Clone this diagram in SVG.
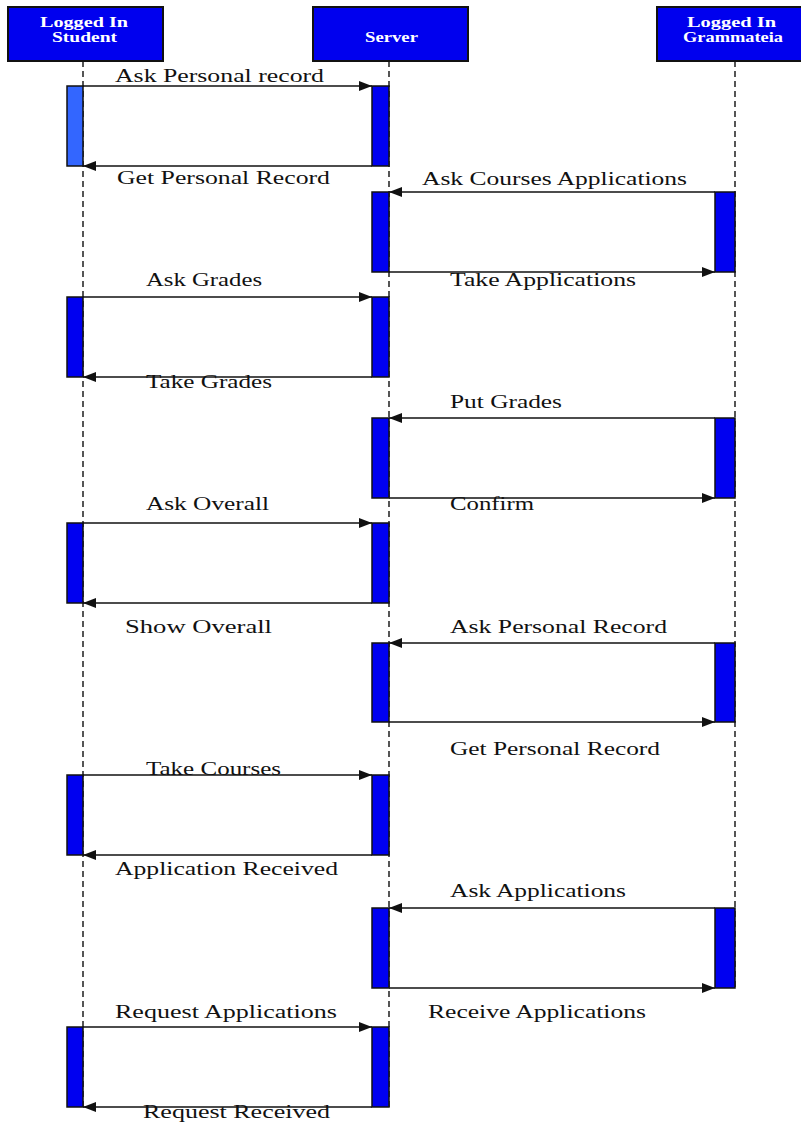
<svg xmlns="http://www.w3.org/2000/svg" width="801" height="1125" viewBox="0 0 801 1125">
<defs>
<marker id="ah" markerUnits="userSpaceOnUse" markerWidth="14" markerHeight="10" refX="13" refY="5" orient="auto">
<path d="M0,0 L13,5 L0,10 z" fill="#111"/>
</marker>
<style>
.hdr{fill:#0000ee;stroke:#111;stroke-width:2}
.ht{font-family:"Liberation Serif","Times New Roman",serif;font-weight:bold;font-size:14px;fill:#fff;text-anchor:start}
.life{stroke:#444;stroke-width:1.8;stroke-dasharray:6 4;fill:none}
.bar{fill:#0000f0;stroke:#111;stroke-width:1.5}
.bar1{fill:#3366ff;stroke:#111;stroke-width:1.5}
.msg{stroke:#111;stroke-width:1.6;fill:none;marker-end:url(#ah)}
.lbl{font-family:"Liberation Serif","Times New Roman",serif;font-size:18px;fill:#111}
</style>
</defs>
<rect width="801" height="1125" fill="#fff"/>
<g id="lifelines">
<line class="life" x1="83" y1="61" x2="83" y2="1107"/>
<line class="life" x1="389" y1="61" x2="389" y2="1107"/>
<line class="life" x1="735" y1="61" x2="735" y2="988"/>
</g>
<g id="student">
<rect class="hdr" x="8" y="7" width="155" height="54"/>
<text class="ht" x="40" y="27" textLength="88" lengthAdjust="spacingAndGlyphs">Logged In</text>
<text class="ht" x="52" y="42" textLength="65" lengthAdjust="spacingAndGlyphs">Student</text>
</g>
<g id="server">
<rect class="hdr" x="313" y="7" width="155" height="54"/>
<text class="ht" x="365" y="42" textLength="53" lengthAdjust="spacingAndGlyphs">Server</text>
</g>
<g id="grammateia">
<rect class="hdr" x="657" y="7" width="155" height="54"/>
<text class="ht" x="687" y="27" textLength="89" lengthAdjust="spacingAndGlyphs">Logged In</text>
<text class="ht" x="683" y="42" textLength="100" lengthAdjust="spacingAndGlyphs">Grammateia</text>
</g>
<g id="activations">
<rect class="bar1" x="67" y="86" width="16" height="80"/>
<rect class="bar" x="372" y="86" width="17" height="80"/>
<rect class="bar" x="372" y="192" width="17" height="80"/>
<rect class="bar" x="715" y="192" width="20" height="80"/>
<rect class="bar" x="67" y="297" width="16" height="80"/>
<rect class="bar" x="372" y="297" width="17" height="80"/>
<rect class="bar" x="372" y="418" width="17" height="80"/>
<rect class="bar" x="715" y="418" width="20" height="80"/>
<rect class="bar" x="67" y="523" width="16" height="80"/>
<rect class="bar" x="372" y="523" width="17" height="80"/>
<rect class="bar" x="372" y="643" width="17" height="79"/>
<rect class="bar" x="715" y="643" width="20" height="79"/>
<rect class="bar" x="67" y="775" width="16" height="80"/>
<rect class="bar" x="372" y="775" width="17" height="80"/>
<rect class="bar" x="372" y="908" width="17" height="80"/>
<rect class="bar" x="715" y="908" width="20" height="80"/>
<rect class="bar" x="67" y="1027" width="16" height="80"/>
<rect class="bar" x="372" y="1027" width="17" height="80"/>
</g>
<g id="connectors">
<line class="msg" x1="83" y1="86" x2="372" y2="86"/>
<line class="msg" x1="372" y1="166" x2="83" y2="166"/>
<line class="msg" x1="715" y1="192" x2="389" y2="192"/>
<line class="msg" x1="389" y1="272" x2="715" y2="272"/>
<line class="msg" x1="83" y1="297" x2="372" y2="297"/>
<line class="msg" x1="372" y1="377" x2="83" y2="377"/>
<line class="msg" x1="715" y1="418" x2="389" y2="418"/>
<line class="msg" x1="389" y1="498" x2="715" y2="498"/>
<line class="msg" x1="83" y1="523" x2="372" y2="523"/>
<line class="msg" x1="372" y1="603" x2="83" y2="603"/>
<line class="msg" x1="715" y1="643" x2="389" y2="643"/>
<line class="msg" x1="389" y1="722" x2="715" y2="722"/>
<line class="msg" x1="83" y1="775" x2="372" y2="775"/>
<line class="msg" x1="372" y1="855" x2="83" y2="855"/>
<line class="msg" x1="715" y1="908" x2="389" y2="908"/>
<line class="msg" x1="389" y1="988" x2="715" y2="988"/>
<line class="msg" x1="83" y1="1027" x2="372" y2="1027"/>
<line class="msg" x1="372" y1="1107" x2="83" y2="1107"/>
</g>
<g id="labels">
<text class="lbl" x="115" y="82" textLength="209" lengthAdjust="spacingAndGlyphs">Ask Personal record</text>
<text class="lbl" x="117" y="184" textLength="213" lengthAdjust="spacingAndGlyphs">Get Personal Record</text>
<text class="lbl" x="422" y="185" textLength="265" lengthAdjust="spacingAndGlyphs">Ask Courses Applications</text>
<text class="lbl" x="450" y="286" textLength="186" lengthAdjust="spacingAndGlyphs">Take Applications</text>
<text class="lbl" x="146" y="286" textLength="116" lengthAdjust="spacingAndGlyphs">Ask Grades</text>
<text class="lbl" x="146" y="388" textLength="126" lengthAdjust="spacingAndGlyphs">Take Grades</text>
<text class="lbl" x="450" y="408" textLength="112" lengthAdjust="spacingAndGlyphs">Put Grades</text>
<text class="lbl" x="450" y="510" textLength="84" lengthAdjust="spacingAndGlyphs">Confirm</text>
<text class="lbl" x="146" y="510" textLength="123" lengthAdjust="spacingAndGlyphs">Ask Overall</text>
<text class="lbl" x="125" y="633" textLength="147" lengthAdjust="spacingAndGlyphs">Show Overall</text>
<text class="lbl" x="450" y="633" textLength="217" lengthAdjust="spacingAndGlyphs">Ask Personal Record</text>
<text class="lbl" x="450" y="755" textLength="210" lengthAdjust="spacingAndGlyphs">Get Personal Record</text>
<text class="lbl" x="146" y="775" textLength="135" lengthAdjust="spacingAndGlyphs">Take Courses</text>
<text class="lbl" x="115" y="875" textLength="223" lengthAdjust="spacingAndGlyphs">Application Received</text>
<text class="lbl" x="450" y="897" textLength="176" lengthAdjust="spacingAndGlyphs">Ask Applications</text>
<text class="lbl" x="115" y="1018" textLength="222" lengthAdjust="spacingAndGlyphs">Request Applications</text>
<text class="lbl" x="428" y="1018" textLength="218" lengthAdjust="spacingAndGlyphs">Receive Applications</text>
<text class="lbl" x="143" y="1118" textLength="187" lengthAdjust="spacingAndGlyphs">Request Received</text>
</g>
</svg>
